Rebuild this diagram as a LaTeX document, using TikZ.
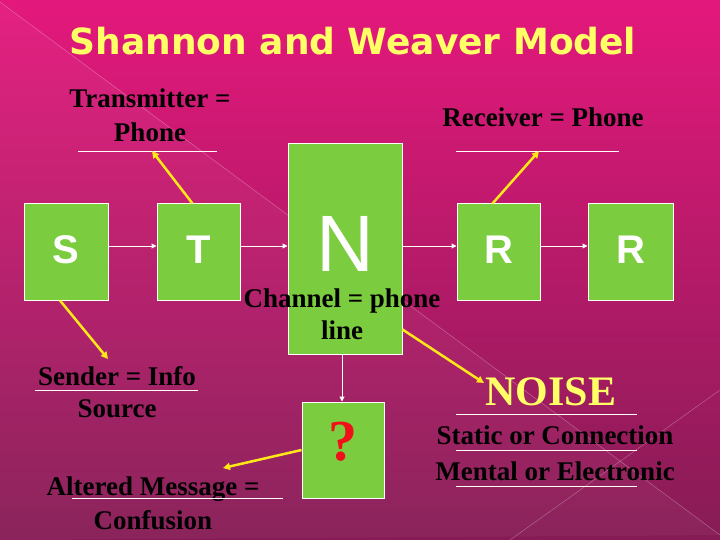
\documentclass[tikz,border=0pt]{standalone}
\usepackage{fontspec}
\setmainfont{Liberation Serif}
\newfontfamily\boxfont{Liberation Sans}
\newfontfamily\titlefont{DejaVu Sans}
\usetikzlibrary{arrows.meta}
\definecolor{slidetop}{HTML}{E4187C}
\definecolor{slidebot}{HTML}{861C55}
\definecolor{boxgreen}{HTML}{7BCD3F}
\definecolor{lightyellow}{HTML}{FFFF66}
\definecolor{arrowyellow}{HTML}{FFE81A}
\definecolor{qred}{HTML}{F0101A}

\begin{document}
\begin{tikzpicture}[x=1pt,y=-1pt,
  box/.style={draw=white, line width=1pt, fill=boxgreen, inner sep=0pt},
  letter/.style={text=white, font=\boxfont\bfseries\fontsize{40}{40}\selectfont},
  txt/.style={anchor=base, inner sep=0pt, font=\bfseries\fontsize{27}{32}\selectfont},
  flow/.style={draw=white, line width=1pt, -{Triangle[length=5pt,width=5pt]}},
  hint/.style={draw=arrowyellow, line width=2.5pt, -{Triangle[length=7pt,width=7pt]}},
  uline/.style={draw=white, line width=0.8pt}]
\useasboundingbox (0,0) rectangle (720,540);
\shade[top color=slidetop, bottom color=slidebot] (0,0) rectangle (720,540);
\fill[white, opacity=0.04] (0,2) -- (720,535) -- (0,540) -- cycle;
\draw[white, opacity=0.3, line width=0.5pt] (0,2) -- (720,535);
\draw[white, opacity=0.3, line width=0.5pt] (510,540) -- (720,390);

\node[anchor=base, text=lightyellow, font=\titlefont\bfseries\fontsize{36}{36}\selectfont] (title) at (353,55) {Shannon and Weaver Model};

% boxes
\node[box, letter, minimum width=84pt, minimum height=96pt, text depth=5pt] (S) at (66,252) {S};
\node[box, letter, minimum width=83pt, minimum height=96pt, text depth=5pt] (T) at (198.5,252) {T};
\node[box, minimum width=114pt, minimum height=210pt] (N) at (345,249) {};
\node[letter, font=\boxfont\fontsize{80}{80}\selectfont] (Nchar) at (345,244) {N};
\node[box, letter, minimum width=83pt, minimum height=96pt, text depth=5pt] (R1) at (498.5,252) {R};
\node[box, letter, minimum width=85pt, minimum height=96pt, text depth=5pt] (R2) at (630.5,252) {R};
\node[box, minimum width=82pt, minimum height=96pt] (Q) at (343,450) {};
\node[text=qred, font=\bfseries\fontsize{58}{58}\selectfont] (qmark) at (343,442) {?};

% labels
\node[txt] (trans1) at (150,108) {Transmitter =};
\node[txt] (trans2) at (150,142) {Phone};
\node[txt] (recv) at (543,127) {Receiver = Phone};
\node[txt] (chan1) at (342,307) {Channel = phone};
\node[txt] (chan2) at (342,339) {line};
\node[txt] (send1) at (117,385) {Sender = Info};
\node[txt] (send2) at (117,417) {Source};
\node[txt] (alt1) at (153,495) {Altered Message =};
\node[txt] (alt2) at (153,529) {Confusion};
\node[txt, text=lightyellow, font=\bfseries\fontsize{42}{42}\selectfont] (noise) at (551,405) {NOISE};
\node[txt] (stat) at (555,444) {Static or Connection};
\node[txt] (ment) at (555,480) {Mental or Electronic};

% underlines
\draw[uline] (78,151) -- (217,151);
\draw[uline] (456,151) -- (619,151);
\draw[uline] (35,390) -- (198,390);
\draw[uline] (72,498) -- (283,498);
\draw[uline] (456,414) -- (637,414);
\draw[uline] (456,450) -- (637,450);
\draw[uline] (456,486) -- (637,486);

% flow
\draw[flow] ([yshift=6]S.east) -- ([yshift=6]T.west);
\draw[flow] ([yshift=6]T.east) -- ([yshift=3]N.west);
\draw[flow] ([yshift=3]N.east) -- ([yshift=6]R1.west);
\draw[flow] ([yshift=6]R1.east) -- ([yshift=6]R2.west);
\draw[flow] ([xshift=-3]N.south) -- ([xshift=-1]Q.north);

% pointers
\coordinate (transTip) at (152,151);
\coordinate (sendTip) at (108,359);
\coordinate (recvTip) at (539,151);
\coordinate (noiseTip) at (484,383);
\coordinate (altTip) at (223,468);
\draw[hint] ([xshift=-6]T.north) -- (transTip);
\draw[hint] ([xshift=-6]S.south) -- (sendTip);
\draw[hint] ([xshift=-6]R1.north) -- (recvTip);
\draw[hint] ([yshift=25]N.south east) -- (noiseTip);
\draw[hint] (Q.west) -- (altTip);
\end{tikzpicture}
\end{document}
